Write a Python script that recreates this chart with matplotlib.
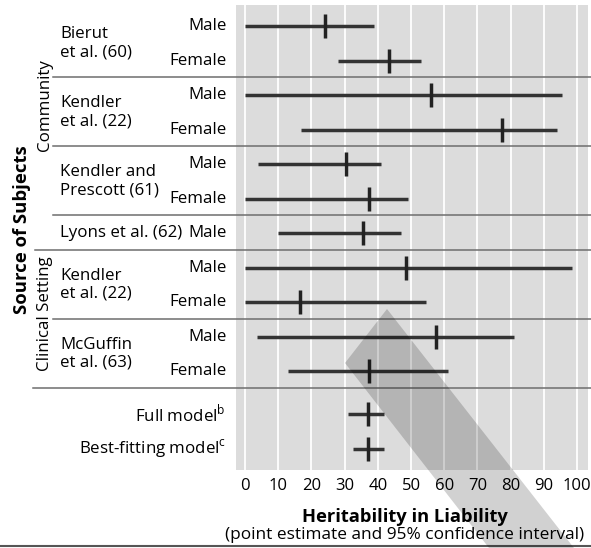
import numpy as np
import matplotlib
matplotlib.use("Agg")
import matplotlib.pyplot as plt
from matplotlib.transforms import blended_transform_factory
from matplotlib.patches import Polygon

plt.rcParams['font.family'] = ['Open Sans', 'DejaVu Sans']
plt.rcParams['mathtext.fontset'] = 'custom'
plt.rcParams['mathtext.rm'] = 'Open Sans'

# rows top to bottom
sexes = ["Male", "Female", "Male", "Female", "Male", "Female", "Male",
         "Male", "Female", "Male", "Female", "", ""]
lower = [0, 28, 0, 17, 4, 0, 10, 0, 0, 3.5, 13, 31, 32.5]
estimate = [24, 43.5, 56, 77.5, 30.5, 37.5, 35.5, 48.5, 16.5, 57.5, 37.5, 37, 37]
upper = [39, 53, 95.5, 94, 41, 49, 47, 98.5, 54.5, 81, 61, 42, 42]

studies = ["Bierut\net al. (60)", "Kendler\net al. (22)", "Kendler and\nPrescott (61)",
           "Lyons et al. (62)", "Kendler\net al. (22)", "McGuffin\net al. (63)"]
study_rows = [(0, 1), (2, 3), (4, 5), (6, 6), (7, 8), (9, 10)]
model_labels = ["Full model$^{\\mathrm{b}}$", "Best-fitting model$^{\\mathrm{c}}$"]
ticks = list(range(0, 101, 10))

W, H = 591, 548
fig = plt.figure(figsize=(W / 100, H / 100), dpi=100)
ax = fig.add_axes([236 / W, 1 - 470 / H, (588 - 236) / W, (470 - 5) / H])
ax.set_facecolor('#dcdcdc')
for s in ax.spines.values():
    s.set_visible(False)

n = len(estimate)
ypos = np.array([i + (0.25 if i >= 11 else 0) for i in range(n)])

for t in ticks:
    ax.axvline(t, color='white', lw=1.3, zorder=1)

ax.hlines(ypos, lower, upper, color='#333333', lw=2.5, zorder=3)
ax.plot(estimate, ypos, ls='none', marker='|', ms=17, mew=2.5, color='#222222', zorder=4)

ax.set_xlim(-2.7, 103.3)
ax.set_ylim(12.87, -0.61)
ax.set_xticks(ticks)
ax.set_yticks([])
ax.tick_params(axis='x', length=0, pad=6, labelsize=12)

# separators
trans = blended_transform_factory(fig.transFigure, ax.transData)
seps = [(1.47, 53), (3.48, 53), (5.48, 53), (6.49, 35), (8.49, 53), (10.49, 33)]
for yy, x0 in seps:
    ax.plot([x0 / W, 1], [yy, yy], transform=trans, color='#6e6e6e', lw=1.1,
            clip_on=False, zorder=5)

fs = 12.2
for i, lab in enumerate(sexes):
    if lab:
        ax.text(227 / W, ypos[i], lab, transform=trans, ha='right', va='center', fontsize=fs)
for lab, (a, b) in zip(studies, study_rows):
    ax.text(60 / W, (ypos[a] + ypos[b]) / 2, lab, transform=trans, ha='left',
            va='center', fontsize=fs, linespacing=1.2)
for i, lab in enumerate(model_labels):
    ax.text(226 / W, ypos[11 + i], lab, transform=trans, ha='right', va='center', fontsize=fs)

fig.text(22 / W, 1 - 230 / H, "Source of Subjects", rotation=90, ha='center',
         va='center', fontsize=13.3, fontweight='bold')
fig.text(45 / W, 1 - 105 / H, "Community", rotation=90, ha='center', va='center', fontsize=fs)
fig.text(45 / W, 1 - 314 / H, "Clinical Setting", rotation=90, ha='center', va='center', fontsize=fs)

fig.text(405 / W, 1 - 517 / H, "Heritability in Liability", ha='center', va='center',
         fontsize=13.2, fontweight='bold')
fig.text(405 / W, 1 - 535 / H, "(point estimate and 95% confidence interval)",
         ha='center', va='center', fontsize=12.4)

# bottom rule
fig.add_artist(plt.Line2D([0, 1], [1 - 546 / H, 1 - 546 / H], transform=fig.transFigure,
                          color='#555555', lw=1.5))

# diagonal shaded band
band = [(387, 309), (345, 363), (489, 548), (574, 548)]
fig.add_artist(Polygon([(x / W, 1 - y / H) for x, y in band], closed=True,
                       transform=fig.transFigure, facecolor='black', alpha=0.18,
                       edgecolor='none', zorder=10))

fig.savefig("out.png", dpi=100)
